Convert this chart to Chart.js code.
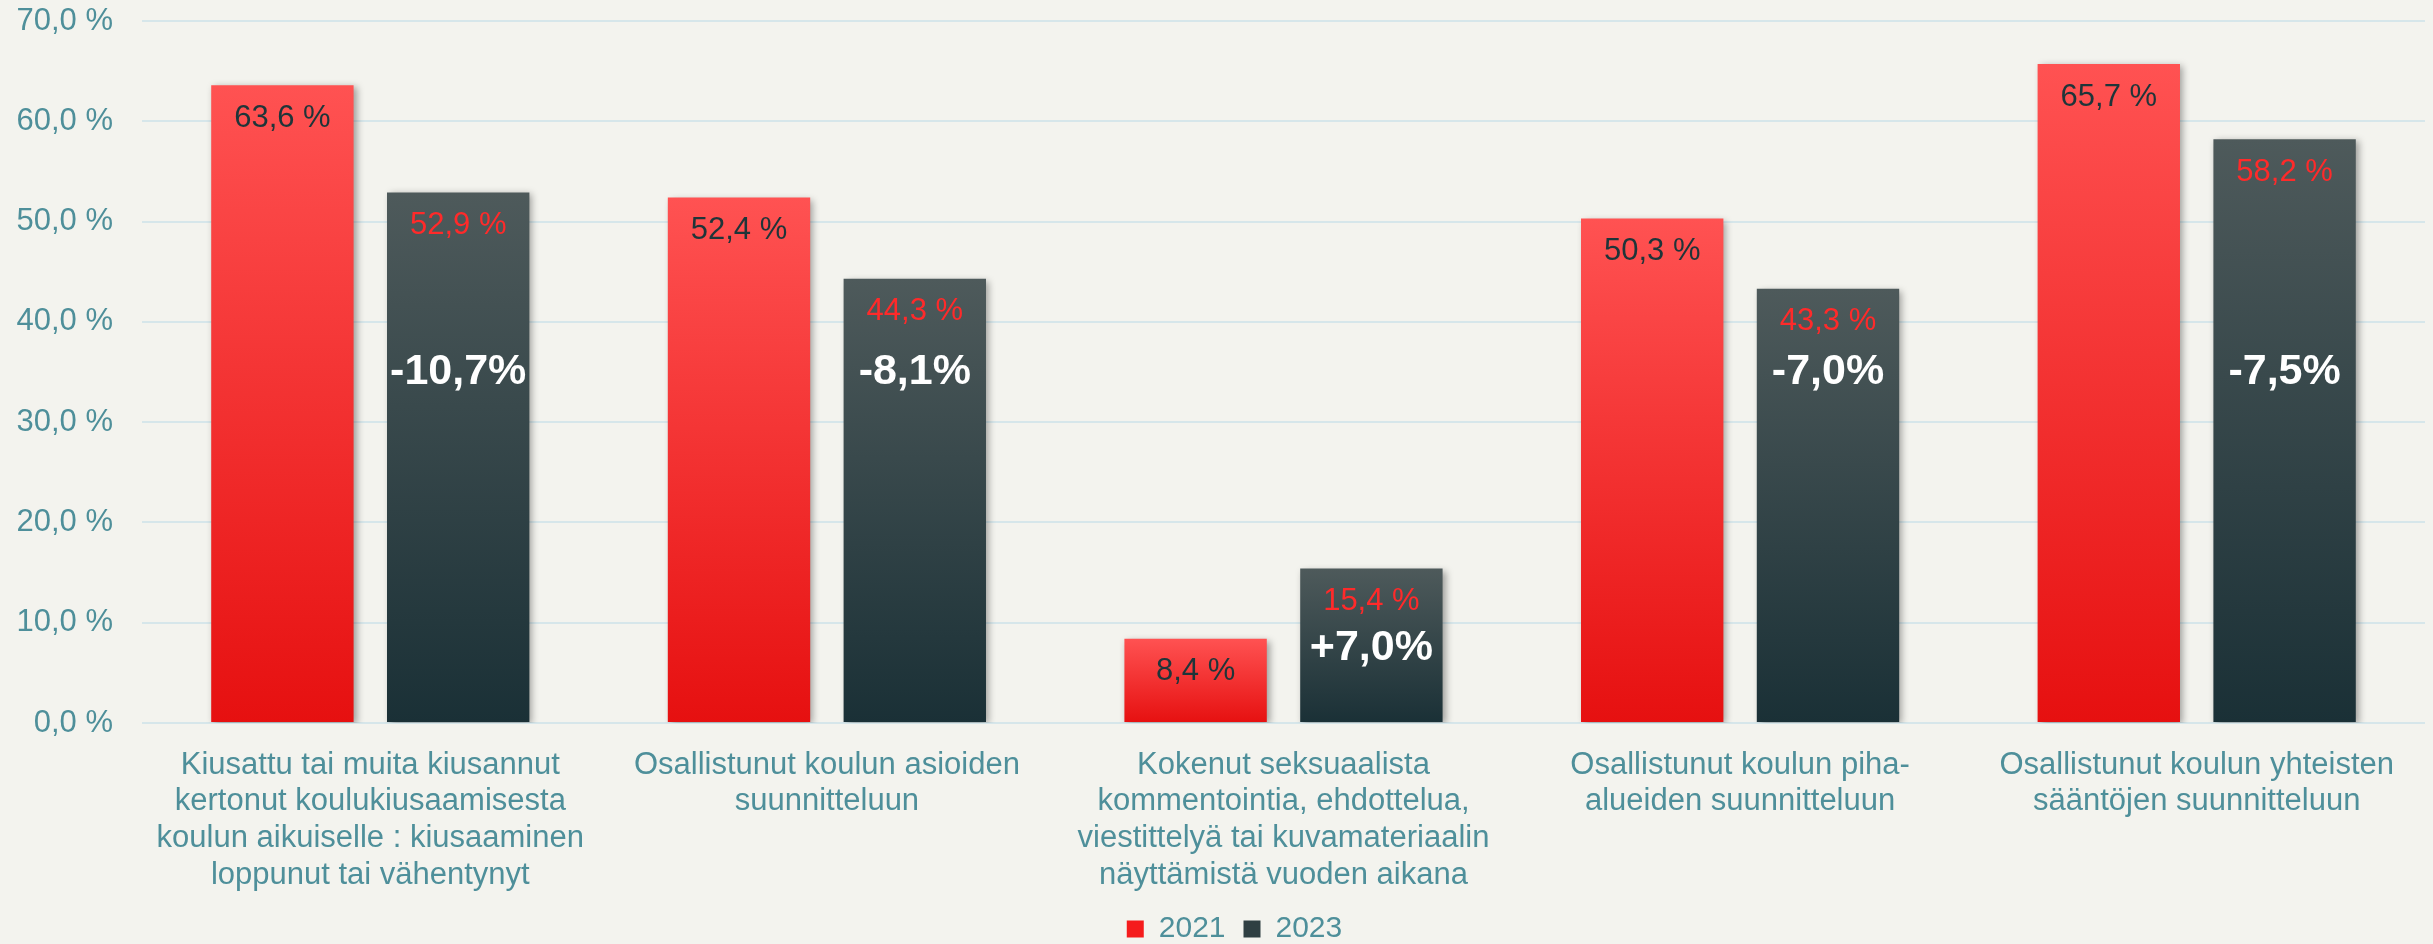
<!DOCTYPE html>
<html lang="fi">
<head>
    <meta charset="UTF-8">
    <title>Kiusaaminen ja osallisuus 2021 / 2023</title>
    <style>
        body {
            margin: 0;
            background-color: #f3f3ee;
        }
        #chart-container {
            width: 2433px;
            height: 944px;
        }
    </style>
</head>
<body>
    <div id="chart-container">
        <canvas id="barChart"></canvas>
    </div>
    <script src="https://cdn.jsdelivr.net/npm/chart.js@4.4.1/dist/chart.umd.min.js"></script>
    <script>
        const categories = [
            ['Kiusattu tai muita kiusannut', 'kertonut koulukiusaamisesta', 'koulun aikuiselle : kiusaaminen', 'loppunut tai vähentynyt'],
            ['Osallistunut koulun asioiden', 'suunnitteluun'],
            ['Kokenut seksuaalista', 'kommentointia, ehdottelua,', 'viestittelyä tai kuvamateriaalin', 'näyttämistä vuoden aikana'],
            ['Osallistunut koulun piha-', 'alueiden suunnitteluun'],
            ['Osallistunut koulun yhteisten', 'sääntöjen suunnitteluun']
        ];
        const values2021 = [63.6, 52.4, 8.4, 50.3, 65.7];
        const values2023 = [52.9, 44.3, 15.4, 43.3, 58.2];
        const changeLabels = ['-10,7%', '-8,1%', '+7,0%', '-7,0%', '-7,5%'];

        const teal = '#4e8f9a';
        const fmt = v => v.toFixed(1).replace('.', ',') + ' %';

        // each bar gets its own top->bottom gradient
        function barFill(topColor, bottomColor) {
            return function (ctx) {
                const chart = ctx.chart;
                const y = chart.scales.y;
                if (ctx.type !== 'data' || !y) return bottomColor;
                const top = y.getPixelForValue(ctx.raw);
                const base = y.getPixelForValue(0);
                if (!isFinite(top) || !isFinite(base) || base - top < 1) return bottomColor;
                const g = chart.ctx.createLinearGradient(0, top, 0, base);
                g.addColorStop(0, topColor);
                g.addColorStop(1, bottomColor);
                return g;
            };
        }

        const barShadow = {
            id: 'barShadow',
            afterLayout(chart) {
                // legend sits a little right of the canvas centre
                chart.legend.left += 22;
                chart.legend.right += 22;
            },
            beforeDatasetsDraw(chart) {
                const c = chart.ctx;
                c.save();
                c.shadowColor = 'rgba(0,0,0,0.35)';
                c.shadowBlur = 7;
                c.shadowOffsetX = 3;
                c.shadowOffsetY = 2;
            },
            afterDatasetsDraw(chart) {
                chart.ctx.restore();
            }
        };

        const barLabels = {
            id: 'barLabels',
            afterDatasetsDraw(chart) {
                const c = chart.ctx;
                const y = chart.scales.y;
                c.save();
                c.textAlign = 'center';
                c.textBaseline = 'middle';
                c.font = '31px "Liberation Sans", Arial, sans-serif';
                const colors = ['#1e3539', '#ff2a2a'];
                chart.data.datasets.forEach((ds, di) => {
                    chart.getDatasetMeta(di).data.forEach((bar, i) => {
                        c.fillStyle = colors[di];
                        c.fillText(fmt(ds.data[i]), bar.x, bar.y + 33);
                    });
                });
                c.font = 'bold 43px "Liberation Sans", Arial, sans-serif';
                c.fillStyle = '#ffffff';
                chart.getDatasetMeta(1).data.forEach((bar, i) => {
                    const ly = Math.max(y.getPixelForValue(35), bar.y + 80);
                    c.fillText(changeLabels[i], bar.x, ly);
                });
                c.restore();
            }
        };

        new Chart(document.getElementById('barChart'), {
            type: 'bar',
            data: {
                labels: categories,
                datasets: [
                    {
                        label: '2021',
                        data: values2021,
                        backgroundColor: barFill('#ff5252', '#e61010'),
                        categoryPercentage: 0.77,
                        barPercentage: 0.81
                    },
                    {
                        label: '2023',
                        data: values2023,
                        backgroundColor: barFill('#4e5a5b', '#1a3036'),
                        categoryPercentage: 0.77,
                        barPercentage: 0.81
                    }
                ]
            },
            options: {
                responsive: true,
                maintainAspectRatio: false,
                animation: false,
                layout: {
                    padding: { top: 21, right: 8, left: 0, bottom: -10 }
                },
                plugins: {
                    tooltip: { enabled: false },
                    legend: {
                        position: 'bottom',
                        labels: {
                            boxWidth: 17,
                            boxHeight: 17,
                            padding: 18,
                            color: teal,
                            font: { size: 30, family: '"Liberation Sans", Arial, sans-serif' },
                            generateLabels(chart) {
                                const fills = ['#f51c1c', '#2f3f42'];
                                return chart.data.datasets.map((ds, i) => ({
                                    text: ds.label,
                                    fillStyle: fills[i],
                                    strokeStyle: fills[i],
                                    lineWidth: 0,
                                    fontColor: teal,
                                    datasetIndex: i
                                }));
                            }
                        }
                    }
                },
                scales: {
                    x: {
                        afterFit(scale) { scale.height = 173; },
                        grid: { display: false },
                        border: { display: false },
                        ticks: {
                            color: teal,
                            padding: 16,
                            maxRotation: 0,
                            autoSkip: false,
                            font: { size: 31, family: '"Liberation Sans Narrow", "Arial Narrow", "Liberation Sans", sans-serif', lineHeight: 1.18 }
                        }
                    },
                    y: {
                        min: 0,
                        max: 70,
                        afterFit(scale) {
                            scale.width = 142;
                            scale.paddingTop = 0;
                            scale.paddingBottom = 0;
                        },
                        grid: { color: '#d6e6ea', lineWidth: 2, drawTicks: false },
                        border: { display: false },
                        ticks: {
                            stepSize: 10,
                            color: teal,
                            padding: 29,
                            font: { size: 31, family: '"Liberation Sans", Arial, sans-serif' },
                            callback: v => fmt(v)
                        }
                    }
                }
            },
            plugins: [barShadow, barLabels]
        });
    </script>
</body>
</html>
